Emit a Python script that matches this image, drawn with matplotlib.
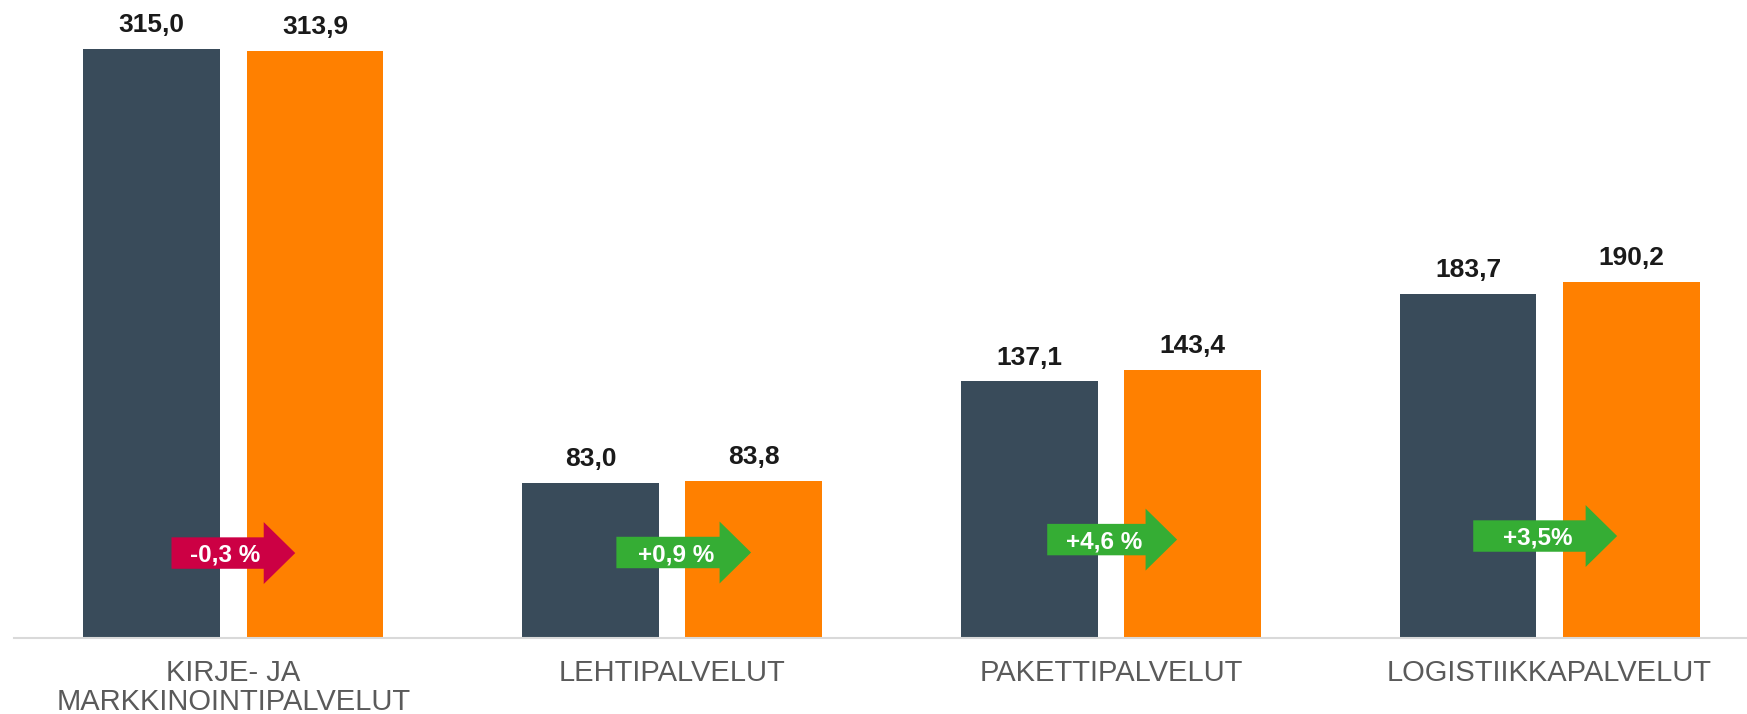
import matplotlib
matplotlib.use('Agg')
import matplotlib.pyplot as plt
from matplotlib.patches import FancyArrow
import numpy as np

# ---- data ----
categories = ['KIRJE- JA\nMARKKINOINTIPALVELUT', 'LEHTIPALVELUT',
              'PAKETTIPALVELUT', 'LOGISTIIKKAPALVELUT']
values_prev = [315.0, 83.0, 137.1, 183.7]
values_curr = [313.9, 83.8, 143.4, 190.2]
change_labels = ['-0,3 %', '+0,9 %', '+4,6 %', '+3,5%']
change_positive = [False, True, True, True]

# ---- annotation layout (positions relative to group centre, y in data units) ----
arrow_start = [-0.141, -0.127, -0.145, -0.174]
arrow_end = [0.141, 0.180, 0.151, 0.154]
arrow_y = [45.4, 45.7, 52.6, 54.5]

DARK = '#394B5A'
ORANGE = '#FF8000'
GREEN = '#35AD34'
RED = '#CC0044'
GREY = '#5A5A5A'

plt.rcParams['font.family'] = ['Liberation Sans', 'DejaVu Sans']

fig = plt.figure(figsize=(17.47, 7.14), dpi=100)
ax = fig.add_axes([14 / 1747, (714 - 638) / 714, 1 - 14 / 1747, 638 / 714])

x = np.arange(len(categories))
off = 0.186
w = 0.312
b1 = ax.bar(x - off, values_prev, w, color=DARK, linewidth=0)
b2 = ax.bar(x + off, values_curr, w, color=ORANGE, linewidth=0)

ax.set_xlim(-0.5, 3.45)
ax.set_ylim(0, 341)

for bars, vals in ((b1, values_prev), (b2, values_curr)):
    for rect, v in zip(bars, vals):
        ax.annotate(f'{v:.1f}'.replace('.', ','),
                    (rect.get_x() + rect.get_width() / 2, rect.get_height()),
                    xytext=(0, 12.2), textcoords='offset points',
                    ha='center', va='baseline', fontsize=19,
                    fontweight='bold', color='#1a1a1a')

body_w = 16.8
head_w = 33.1
head_l = 0.0718
for i in range(len(categories)):
    x0 = x[i] + arrow_start[i]
    x1 = x[i] + arrow_end[i]
    col = GREEN if change_positive[i] else RED
    arr = FancyArrow(x0, arrow_y[i], x1 - x0, 0, width=body_w,
                     head_width=head_w, head_length=head_l,
                     length_includes_head=True, color=col, linewidth=0,
                     zorder=3)
    ax.add_patch(arr)
    tx = (x0 + x1 - head_l) / 2 + 0.018
    ax.annotate(change_labels[i], (tx, arrow_y[i]), xytext=(0, -6.3),
                textcoords='offset points', ha='center', va='baseline',
                fontsize=17.5, fontweight='bold', color='white', zorder=4)

ax.set_xticks(x)
ax.set_xticklabels(categories, fontsize=21, color=GREY)
for lbl in ax.get_xticklabels():
    lbl.set_linespacing(1.05)
ax.tick_params(axis='x', length=0, pad=15)
ax.set_yticks([])
for s in ('top', 'right', 'left'):
    ax.spines[s].set_visible(False)
ax.spines['bottom'].set_color('#D9D9D9')
ax.spines['bottom'].set_linewidth(1.5)

fig.savefig('out.png', dpi=100)
